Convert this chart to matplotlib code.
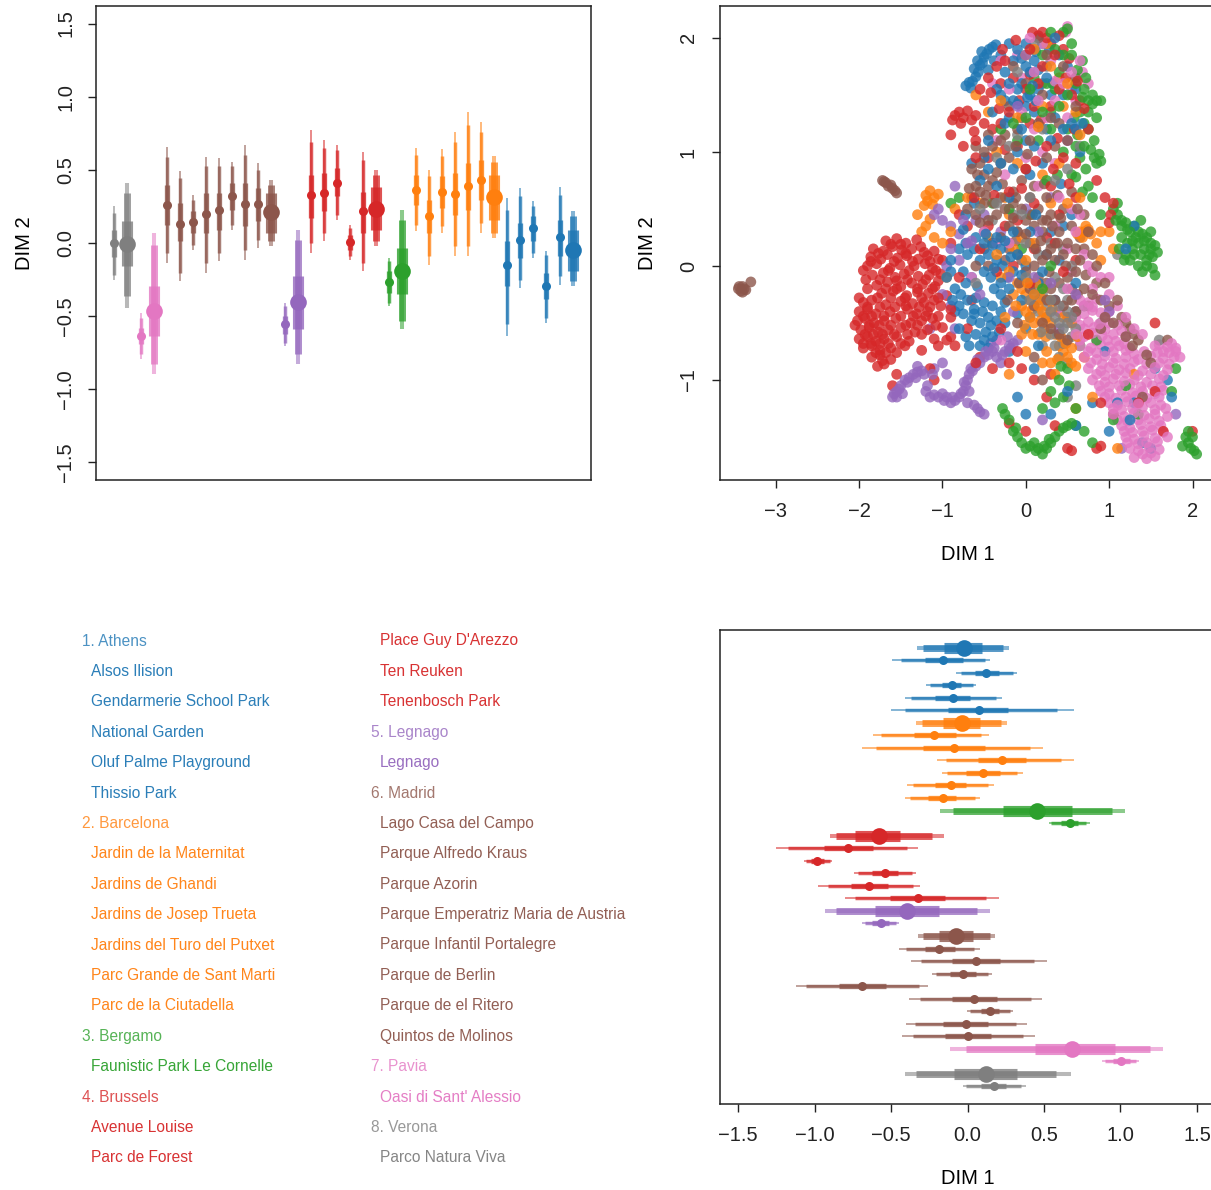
import numpy as np
import matplotlib
matplotlib.use('Agg')
import matplotlib.pyplot as plt

plt.rcParams['font.family'] = ['Liberation Sans', 'DejaVu Sans']

## Cities in plotting order (bottom / left first), with park counts
cities = ['Verona', 'Pavia', 'Madrid', 'Legnago', 'Brussels', 'Bergamo', 'Barcelona', 'Athens']
n_parks = [1, 1, 8, 1, 5, 1, 6, 5]
city_colors = {'Athens': '#1f77b4', 'Barcelona': '#ff7f0e', 'Bergamo': '#2ca02c',
               'Brussels': '#d62728', 'Legnago': '#9467bd', 'Madrid': '#8c564b',
               'Pavia': '#e377c2', 'Verona': '#7f7f7f'}

## DIM 2 posterior summaries (parks first, then the city), positions 1..36
dim2_pt = [0.00, -0.005, -0.636, -0.466, 0.261, 0.133, 0.143, 0.200, 0.223, 0.323, 0.268, 0.268,
           0.211, -0.557, -0.405, 0.325, 0.345, 0.411, 0.009, 0.216, 0.232, -0.266, -0.193, 0.359,
           0.186, 0.348, 0.336, 0.393, 0.432, 0.314, -0.148, 0.023, 0.100, -0.295, 0.041, -0.050]
dim2_outer_lo = [-0.25, -0.443, -0.795, -0.898, -0.136, -0.261, -0.045, -0.205, -0.125, 0.091, -0.114, -0.034,
                 -0.023, -0.705, -0.830, -0.068, 0.011, 0.159, -0.114, -0.193, -0.023, -0.432, -0.591, 0.080,
                 -0.148, 0.068, -0.091, -0.091, 0.068, 0.034, -0.636, -0.307, -0.102, -0.545, -0.284, -0.295]
dim2_outer_hi = [0.25, 0.409, -0.477, 0.068, 0.659, 0.489, 0.330, 0.591, 0.580, 0.557, 0.670, 0.550,
                 0.432, -0.409, 0.091, 0.773, 0.705, 0.670, 0.125, 0.625, 0.500, -0.102, 0.227, 0.648,
                 0.500, 0.641, 0.761, 0.898, 0.830, 0.595, 0.307, 0.375, 0.284, -0.057, 0.386, 0.216]
dim2_mid_lo = [-0.216, -0.364, -0.761, -0.830, -0.068, -0.205, -0.011, -0.136, -0.068, 0.125, -0.045, 0.023,
               0.011, -0.682, -0.761, 0.0, 0.068, 0.193, -0.091, -0.136, 0.011, -0.409, -0.534, 0.125,
               -0.091, 0.114, -0.023, -0.023, 0.136, 0.068, -0.557, -0.250, -0.068, -0.511, -0.227, -0.261]
dim2_mid_hi = [0.205, 0.341, -0.511, -0.011, 0.591, 0.443, 0.295, 0.523, 0.523, 0.523, 0.602, 0.500,
               0.398, -0.432, 0.023, 0.693, 0.648, 0.636, 0.102, 0.568, 0.466, -0.125, 0.159, 0.602,
               0.455, 0.595, 0.693, 0.807, 0.761, 0.557, 0.227, 0.318, 0.250, -0.080, 0.330, 0.182]
dim2_inner_lo = [-0.095, -0.159, -0.693, -0.636, 0.125, 0.011, 0.068, 0.068, 0.091, 0.227, 0.114, 0.148,
                 0.068, -0.625, -0.591, 0.170, 0.216, 0.318, -0.045, 0.068, 0.091, -0.341, -0.352, 0.261,
                 0.068, 0.239, 0.193, 0.227, 0.295, 0.159, -0.295, -0.102, 0.011, -0.386, -0.091, -0.193]
dim2_inner_hi = [0.091, 0.148, -0.580, -0.295, 0.398, 0.273, 0.216, 0.341, 0.345, 0.409, 0.409, 0.375,
                 0.341, -0.500, -0.227, 0.466, 0.477, 0.511, 0.057, 0.352, 0.386, -0.193, -0.034, 0.466,
                 0.295, 0.455, 0.477, 0.545, 0.568, 0.466, 0.011, 0.136, 0.182, -0.205, 0.159, 0.091]

## DIM 1 posterior summaries, same positions
dim1_pt = [0.173, 0.119, 1.001, 0.683, 0.003, -0.012, 0.149, 0.045, -0.690, -0.032, 0.058, -0.184,
           -0.077, -0.568, -0.395, -0.324, -0.642, -0.539, -0.981, -0.781, -0.576, 0.668, 0.454, -0.162,
           -0.108, 0.101, 0.228, -0.090, -0.219, -0.038, 0.073, -0.097, -0.101, 0.123, -0.158, -0.025]
dim1_outer_lo = [-0.029, -0.406, 0.879, -0.117, -0.428, -0.404, -0.001, -0.382, -1.119, -0.230, -0.367, -0.448,
                 -0.324, -0.690, -0.934, -0.798, -0.975, -0.742, -1.071, -1.250, -0.897, 0.530, -0.178, -0.406,
                 -0.395, -0.167, -0.199, -0.690, -0.618, -0.334, -0.498, -0.411, -0.269, -0.073, -0.493, -0.330]
dim1_outer_hi = [0.380, 0.675, 1.121, 1.278, 0.439, 0.389, 0.298, 0.487, -0.256, 0.162, 0.522, 0.080,
                 0.182, -0.448, 0.149, 0.204, -0.308, -0.334, -0.883, -0.324, -0.156, 0.799, 1.031, 0.084,
                 0.175, 0.363, 0.696, 0.493, 0.140, 0.258, 0.696, 0.225, 0.058, 0.326, 0.149, 0.271]
dim1_mid_lo = [-0.008, -0.334, 0.896, -0.008, -0.356, -0.341, 0.018, -0.313, -1.058, -0.204, -0.306, -0.404,
               -0.291, -0.672, -0.857, -0.737, -0.912, -0.716, -1.058, -1.173, -0.862, 0.547, -0.095, -0.374,
               -0.356, -0.134, -0.138, -0.596, -0.563, -0.295, -0.406, -0.372, -0.247, -0.045, -0.432, -0.291]
dim1_mid_hi = [0.352, 0.581, 1.103, 1.195, 0.363, 0.319, 0.276, 0.417, -0.317, 0.134, 0.432, 0.040,
               0.145, -0.465, 0.064, 0.119, -0.356, -0.363, -0.901, -0.396, -0.232, 0.777, 0.944, 0.047,
               0.134, 0.324, 0.613, 0.406, 0.090, 0.221, 0.587, 0.184, 0.036, 0.297, 0.112, 0.232]
dim1_inner_lo = [0.090, -0.090, 0.951, 0.439, -0.149, -0.160, 0.086, -0.101, -0.840, -0.117, -0.101, -0.280,
                 -0.188, -0.622, -0.607, -0.508, -0.759, -0.622, -1.021, -0.940, -0.733, 0.613, 0.232, -0.256,
                 -0.215, -0.008, 0.069, -0.291, -0.350, -0.160, -0.127, -0.215, -0.167, 0.047, -0.280, -0.156]
dim1_inner_hi = [0.254, 0.326, 1.060, 0.962, 0.156, 0.134, 0.206, 0.195, -0.530, 0.058, 0.210, -0.084,
                 0.036, -0.515, -0.186, -0.145, -0.520, -0.454, -0.940, -0.618, -0.443, 0.722, 0.683, -0.073,
                 -0.008, 0.210, 0.385, 0.112, -0.077, 0.080, 0.265, 0.019, -0.040, 0.204, -0.029, 0.097]

## Legend text, two columns
legend_col1 = [('1. Athens', 'Athens', True), ('Alsos Ilision', 'Athens', False),
               ('Gendarmerie School Park', 'Athens', False), ('National Garden', 'Athens', False),
               ('Oluf Palme Playground', 'Athens', False), ('Thissio Park', 'Athens', False),
               ('2. Barcelona', 'Barcelona', True), ('Jardin de la Maternitat', 'Barcelona', False),
               ('Jardins de Ghandi', 'Barcelona', False), ('Jardins de Josep Trueta', 'Barcelona', False),
               ('Jardins del Turo del Putxet', 'Barcelona', False), ('Parc Grande de Sant Marti', 'Barcelona', False),
               ('Parc de la Ciutadella', 'Barcelona', False), ('3. Bergamo', 'Bergamo', True),
               ('Faunistic Park Le Cornelle', 'Bergamo', False), ('4. Brussels', 'Brussels', True),
               ('Avenue Louise', 'Brussels', False), ('Parc de Forest', 'Brussels', False)]
legend_col2 = [("Place Guy D'Arezzo", 'Brussels', False), ('Ten Reuken', 'Brussels', False),
               ('Tenenbosch Park', 'Brussels', False), ('5. Legnago', 'Legnago', True),
               ('Legnago', 'Legnago', False), ('6. Madrid', 'Madrid', True),
               ('Lago Casa del Campo', 'Madrid', False), ('Parque Alfredo Kraus', 'Madrid', False),
               ('Parque Azorin', 'Madrid', False), ('Parque Emperatriz Maria de Austria', 'Madrid', False),
               ('Parque Infantil Portalegre', 'Madrid', False), ('Parque de Berlin', 'Madrid', False),
               ('Parque de el Ritero', 'Madrid', False), ('Quintos de Molinos', 'Madrid', False),
               ('7. Pavia', 'Pavia', True), ("Oasi di Sant' Alessio", 'Pavia', False),
               ('8. Verona', 'Verona', True), ('Parco Natura Viva', 'Verona', False)]

## Site embedding (DIM 1, DIM 2), one list per city
athens_pts = [(-0.72, 1.58), (-0.68, 1.61), (-0.64, 1.62), (-0.6, 1.66), (-0.57, 1.7), (-0.55, 1.76),
              (-0.52, 1.78), (-0.5, 1.83), (-0.47, 1.86), (-0.44, 1.9), (-0.4, 1.92), (-0.36, 1.94),
              (-0.62, 1.73), (-0.58, 1.8), (-0.53, 1.88), (-0.66, 1.56), (-0.2, 1.95), (-0.1, 1.9),
              (0.0, 1.75), (0.05, 1.7), (0.1, 1.8), (-0.05, 1.6), (0.15, 1.55), (-0.3, 1.5), (-0.15, 1.45),
              (0.0, 1.4), (0.1, 1.35), (-0.2, 1.3), (0.2, 1.95), (0.4, 1.85), (0.5, 1.75), (0.55, 1.25),
              (0.45, 1.2), (0.3, 1.1), (0.1, 1.05), (-0.1, 1.0), (-0.3, 0.9), (-0.45, 0.85), (-0.55, 0.75),
              (-0.35, 0.7), (-0.2, 0.6), (0.05, 0.8), (0.2, 0.9), (0.65, 1.0), (0.6, 1.55), (-0.4, 1.35),
              (0.3, 1.5), (0.05, 1.5), (-0.05, 1.2), (0.35, 2.0), (-0.25, 1.7), (0.25, 1.65), (0.0, 1.95),
              (-0.1, 1.55), (-0.6, 0.25), (-0.5, 0.2), (-0.4, 0.18), (-0.3, 0.15), (-0.35, 0.05),
              (-0.28, 0.0), (-0.45, 0.1), (-0.55, 0.05), (-0.7, 0.1), (-0.8, 0.15), (-0.75, -0.05),
              (-0.65, -0.1), (-0.5, -0.05), (-0.42, -0.1), (-0.3, -0.15), (-0.85, -0.2), (-0.78, -0.25),
              (-0.7, -0.3), (-0.6, -0.28), (-0.5, -0.32), (-0.4, -0.35), (-0.3, -0.4), (-0.25, -0.5),
              (-0.35, -0.48), (-0.45, -0.45), (-0.55, -0.5), (-0.65, -0.48), (-0.75, -0.42), (-0.85, -0.4),
              (-0.8, -0.55), (-0.6, -0.6), (-0.5, -0.65), (-0.4, -0.62), (-0.68, -0.7), (-0.3, -0.25),
              (-0.2, -0.2), (-0.15, -0.05), (-0.1, 0.1), (0.0, 0.0), (-0.05, -0.3), (0.05, -0.45),
              (0.15, -0.15), (0.25, 0.1), (0.35, -0.3), (0.45, 0.35), (0.55, 0.45), (0.3, 0.3), (-0.9, 0.05),
              (-0.95, -0.1), (0.5, -1.1), (0.3, -1.3), (0.6, -1.4), (0.8, -1.2), (1.1, -1.2), (1.3, -1.2),
              (1.5, -1.6), (1.75, -1.15), (1.4, -1.55), (0.95, -0.75), (0.0, -1.3), (-0.1, -1.15),
              (-0.2, -0.75), (1.55, -0.9), (1.7, -1.0), (1.0, -1.45), (1.3, 0.35), (1.2, 0.15),
              (1.25, -1.35), (0.1, -0.9), (-0.38, -0.2), (-0.62, -0.38), (-0.48, -0.58), (-0.35, 0.25),
              (-0.45, 1.72), (-0.38, 1.8), (-0.3, 1.85), (-0.15, 1.8), (-0.05, 1.82), (0.12, 1.88),
              (0.28, 1.9), (0.15, 1.72), (0.32, 1.6), (-0.2, 1.6), (-0.35, 1.55), (0.08, 1.58),
              (-0.1, 1.42), (0.02, 1.48), (0.12, 1.45), (-0.25, 1.25), (0.35, 1.3), (0.6, 1.2), (0.68, 1.25),
              (-0.15, 0.85), (-0.5, 0.95), (-0.65, 0.9), (0.0, 1.1), (0.42, 0.72), (-0.72, 0.2), (-0.62, 0.15),
              (-0.48, 0.28), (-0.25, 0.22), (-0.18, 0.08), (-0.38, -0.02), (-0.58, -0.18), (-0.72, -0.15),
              (-0.88, -0.3), (-0.8, -0.35), (-0.62, -0.42), (-0.52, -0.4), (-0.42, -0.52), (-0.32, -0.58),
              (-0.55, -0.7), (-0.72, -0.62), (-0.45, -0.72), (-0.25, -0.32), (-0.1, -0.42), (0.0, -0.55),
              (0.15, -0.7), (0.05, 0.3), (0.12, 0.45), (0.2, -0.05), (-0.75, 0.32), (-0.9, -0.05),
              (-0.22, -0.1), (-0.05, -0.08), (-0.15, 0.3), (0.1, -0.25), (-0.62, 0.55), (-0.72, 0.45),
              (0.4, 0.05), (0.6, -0.15), (-0.25, 1.45), (0.25, 1.2), (0.45, 1.5), (-0.45, 1.1)]
barcelona_pts = [(-1.2, 0.62), (-1.15, 0.66), (-1.1, 0.6), (-1.18, 0.57), (-1.12, 0.54), (-1.05, 0.63),
                 (-1.22, 0.53), (-1.2, 0.35), (-1.15, 0.41), (-1.3, 0.45), (-1.25, 0.3), (-1.1, 0.25),
                 (-1.0, 0.2), (-0.1, -0.15), (-0.05, -0.2), (0.0, -0.25), (0.05, -0.3), (0.1, -0.25),
                 (0.15, -0.35), (0.2, -0.4), (0.25, -0.45), (0.3, -0.5), (0.22, -0.55), (0.15, -0.6),
                 (0.1, -0.5), (0.05, -0.45), (0.0, -0.4), (-0.05, -0.35), (0.12, -0.15), (0.2, -0.2),
                 (0.28, -0.3), (0.35, -0.6), (0.4, -0.7), (0.45, -0.75), (0.5, -0.8), (0.55, -0.85),
                 (0.6, -0.88), (0.3, -0.85), (0.35, -0.95), (-0.3, -0.1), (-0.2, -0.05), (-0.35, 0.1),
                 (0.0, 0.05), (0.65, 0.3), (0.7, 0.3), (0.75, 0.32), (0.68, 0.25), (0.72, 0.35), (1.0, 0.3),
                 (1.05, 0.15), (0.9, 0.05), (0.5, 0.55), (-0.6, 1.5), (-0.3, 1.45), (0.0, 1.85), (0.1, 1.9),
                 (-0.1, 1.3), (0.3, 1.75), (0.5, 1.6), (0.2, 1.4), (0.45, 1.4), (0.6, 1.35), (0.4, 0.9),
                 (-0.35, 1.0), (-0.1, 0.9), (0.2, 0.8), (-0.55, 0.55), (-0.45, 0.25), (-0.2, 0.45),
                 (0.65, 0.6), (-0.9, 0.3), (-0.95, -0.1), (-0.05, -0.6), (-0.2, -0.95), (0.8, -1.15),
                 (1.1, -1.6), (0.25, -0.75), (0.6, -1.25), (0.55, -0.5), (1.3, -0.95), (0.1, 0.2),
                 (0.18, -0.28), (0.08, -0.38), (0.24, -0.62), (-0.02, -0.52), (-0.15, -0.25), (-0.12, -0.35),
                 (0.02, -0.15), (0.08, -0.6), (0.18, -0.48), (0.32, -0.38), (0.42, -0.62), (0.48, -0.68),
                 (0.38, -0.82), (0.55, -0.72), (0.62, 0.28), (0.78, 0.28), (-0.05, 0.25), (-0.25, 0.6),
                 (-0.7, 0.6), (-0.85, 0.5), (0.25, 1.95), (0.4, 1.65), (-0.45, 1.35), (0.15, 1.22),
                 (0.65, 1.15), (-0.25, -0.45), (0.0, -0.75), (0.2, -0.85), (0.45, -0.45), (0.62, -0.62),
                 (0.7, -0.8), (-0.15, 0.15), (0.3, 0.55), (0.9, 0.3), (0.85, 0.2)]
bergamo_pts = [(1.05, 0.5), (1.1, 0.45), (1.15, 0.4), (1.1, 0.55), (1.15, 0.35), (1.2, 0.38), (1.25, 0.3),
               (1.3, 0.35), (1.35, 0.3), (1.4, 0.28), (1.45, 0.25), (1.5, 0.2), (1.55, 0.18), (1.48, 0.1),
               (1.42, 0.15), (1.35, 0.2), (1.28, 0.22), (1.22, 0.2), (1.3, 0.1), (1.25, 0.05), (1.35, 0.0),
               (1.45, 0.05), (1.52, -0.02), (1.55, -0.08), (1.4, -0.05), (1.18, 0.05), (1.12, 0.15),
               (1.38, 0.4), (1.5, 0.3), (1.2, 0.1), (0.6, 1.6), (0.7, 1.55), (0.75, 1.45), (0.85, 1.45),
               (0.9, 1.45), (0.8, 1.42), (0.65, 1.35), (0.7, 1.25), (0.75, 1.2), (0.62, 1.15), (0.7, 1.05),
               (0.78, 1.02), (0.82, 0.95), (0.88, 0.98), (0.85, 0.9), (0.72, 0.85), (0.6, 0.78), (0.75, 0.7),
               (0.68, 0.65), (0.3, 2.05), (0.45, 2.05), (0.5, 2.08), (0.35, 1.9), (0.2, 1.85), (0.4, 1.7),
               (0.55, 1.95), (0.25, 1.6), (0.1, 1.65), (0.5, 1.5), (0.4, 1.4), (0.2, 1.35), (0.0, 1.3),
               (0.3, 1.2), (0.15, 1.1), (0.45, 1.0), (-0.1, 1.1), (-0.3, 1.2), (0.55, 0.8), (0.25, 0.75),
               (-0.2, 0.5), (-0.4, 0.55), (-0.8, 0.6), (-0.9, 0.55), (0.05, 0.45), (-0.05, 0.15), (0.3, 0.0),
               (0.2, -0.2), (-0.2, -1.35), (-0.15, -1.45), (-0.1, -1.5), (-0.05, -1.55), (0.0, -1.6),
               (0.1, -1.55), (0.15, -1.6), (0.2, -1.65), (0.25, -1.6), (0.3, -1.55), (0.35, -1.5),
               (0.4, -1.45), (0.5, -1.4), (0.6, -1.4), (0.7, -1.45), (0.2, -1.25), (0.3, -1.1), (0.4, -1.0),
               (0.5, -0.9), (0.45, -1.15), (0.6, -1.25), (-0.25, -1.3), (0.8, -1.55), (1.05, -1.35),
               (1.2, -1.05), (1.35, -1.3), (1.8, -0.9), (1.75, -1.1), (0.85, -0.65), (0.65, -0.7),
               (1.92, -1.5), (1.95, -1.55), (1.98, -1.6), (2.02, -1.62), (2.05, -1.65), (1.95, -1.45),
               (2.0, -1.5), (1.88, -1.58), (0.45, 1.85), (0.55, 1.85), (0.62, 1.72), (0.68, 1.48),
               (0.8, 1.5), (0.75, 1.35), (0.58, 1.3), (0.82, 1.1), (0.65, 0.95), (0.9, 0.92), (0.35, 1.55),
               (0.3, 1.35), (0.5, 1.2), (0.05, 1.55), (-0.15, 1.25), (1.08, 0.4), (1.22, 0.32), (1.32, 0.25),
               (1.42, 0.22), (1.5, 0.15), (1.58, 0.12), (1.45, 0.0), (1.28, 0.15), (1.38, 0.1), (1.52, 0.08),
               (1.15, 0.25), (-0.28, -1.25), (-0.12, -1.42), (0.05, -1.58), (0.22, -1.58), (0.12, -1.62),
               (0.28, -1.52), (0.45, -1.42), (0.55, -1.38), (0.35, -1.2), (0.52, -1.05), (0.42, -0.88),
               (0.68, 1.8), (0.72, 1.65), (0.85, 1.3), (0.6, 1.05), (0.38, 0.8), (0.8, 0.6), (0.9, 0.45)]
brussels_pts = [(-1.68, 0.22), (-1.55, 0.24), (-1.44, 0.2), (-1.31, 0.23), (-1.83, 0.15), (-1.71, 0.13),
                (-1.6, 0.17), (-1.49, 0.14), (-1.37, 0.15), (-1.26, 0.17), (-1.1, 0.13), (-1.86, 0.08),
                (-1.74, 0.06), (-1.66, 0.1), (-1.54, 0.07), (-1.43, 0.09), (-1.29, 0.06), (-1.18, 0.09),
                (-1.05, 0.06), (-1.9, 0.0), (-1.79, 0.02), (-1.63, -0.02), (-1.51, 0.01), (-1.34, 0.0),
                (-1.21, 0.02), (-1.12, -0.02), (-1.84, -0.08), (-1.71, -0.06), (-1.57, -0.1), (-1.46, -0.07),
                (-1.29, -0.09), (-1.16, -0.08), (-1.02, -0.07), (-1.79, -0.17), (-1.66, -0.14), (-1.5, -0.18),
                (-1.37, -0.15), (-1.24, -0.16), (-1.09, -0.18), (-1.73, -0.24), (-1.59, -0.22), (-1.43, -0.26),
                (-1.3, -0.23), (-1.17, -0.24), (-0.95, -0.26), (-1.95, -0.32), (-1.85, -0.3), (-1.68, -0.34),
                (-1.5, -0.31), (-1.36, -0.33), (-1.22, -0.32), (-1.1, -0.3), (-2.0, -0.4), (-1.9, -0.38),
                (-1.8, -0.42), (-1.63, -0.4), (-1.42, -0.38), (-1.31, -0.42), (-1.18, -0.4), (-0.9, -0.38),
                (-2.02, -0.48), (-1.93, -0.46), (-1.82, -0.5), (-1.7, -0.48), (-1.56, -0.46), (-1.38, -0.5),
                (-1.25, -0.48), (-1.12, -0.46), (-1.98, -0.56), (-1.88, -0.54), (-1.77, -0.58), (-1.65, -0.56),
                (-1.5, -0.54), (-1.33, -0.58), (-1.18, -0.56), (-1.0, -0.54), (-2.0, -0.64), (-1.9, -0.62),
                (-1.8, -0.66), (-1.7, -0.64), (-1.55, -0.62), (-1.4, -0.66), (-1.1, -0.64), (-0.9, -0.62),
                (-1.95, -0.72), (-1.85, -0.7), (-1.75, -0.74), (-1.62, -0.72), (-1.45, -0.7), (-1.25, -0.74),
                (-1.85, -0.8), (-1.75, -0.78), (-1.62, -0.82), (-1.78, -0.88), (-1.7, -0.86),
                (-1.62, 0.19), (-1.5, 0.19), (-1.77, 0.11), (-1.44, 0.11), (-1.22, 0.12), (-1.86, 0.04),
                (-1.58, 0.04), (-1.36, 0.04), (-1.15, 0.04), (-1.95, -0.04), (-1.65, -0.04), (-1.4, -0.04),
                (-1.08, -0.04), (-1.92, -0.12), (-1.75, -0.12), (-1.55, -0.13), (-1.42, -0.12), (-1.2, -0.12),
                (-1.05, -0.13), (-1.9, -0.2), (-1.68, -0.2), (-1.55, -0.2), (-1.3, -0.2), (-1.12, -0.2),
                (-2.0, -0.28), (-1.78, -0.28), (-1.62, -0.28), (-1.45, -0.28), (-1.25, -0.28), (-1.05, -0.28),
                (-1.9, -0.36), (-1.75, -0.36), (-1.57, -0.36), (-1.44, -0.35), (-1.28, -0.36), (-1.15, -0.36),
                (-1.02, -0.35), (-1.95, -0.44), (-1.85, -0.44), (-1.7, -0.44), (-1.5, -0.44), (-1.35, -0.44),
                (-1.2, -0.44), (-1.05, -0.44), (-2.05, -0.52), (-1.88, -0.52), (-1.76, -0.52), (-1.62, -0.52),
                (-1.44, -0.52), (-1.3, -0.52), (-1.08, -0.52), (-1.93, -0.6), (-1.83, -0.6), (-1.72, -0.6),
                (-1.58, -0.6), (-1.42, -0.6), (-1.25, -0.6), (-1.95, -0.68), (-1.86, -0.68), (-1.75, -0.68),
                (-1.65, -0.68), (-1.5, -0.68), (-1.8, -0.76), (-1.68, -0.76), (-1.55, -0.76), (-1.72, -0.83),
                (-0.85, 1.32), (-0.8, 1.35), (-0.75, 1.3), (-0.7, 1.36), (-0.65, 1.28), (-0.78, 1.25),
                (-0.88, 1.28), (-0.6, 1.32), (-0.9, 1.15), (0.2, 2.05), (0.25, 2.0), (0.15, 2.02),
                (0.3, 1.95), (0.45, 1.9), (0.35, 1.85), (0.05, 1.9), (-0.25, 1.8), (-0.35, 1.75),
                (-0.45, 1.65), (-0.3, 1.6), (-0.15, 1.65), (0.0, 1.55), (0.15, 1.6), (0.4, 1.55),
                (0.55, 1.5), (0.65, 1.45), (-0.5, 1.45), (-0.2, 1.35), (0.05, 1.25), (0.3, 1.4), (-0.4, 1.2),
                (-0.1, 1.05), (0.25, 1.05), (0.45, 0.95), (0.6, 0.9), (-0.6, 1.1), (-0.75, 1.05),
                (-0.6, 0.95), (0.0, 0.85), (0.3, 0.7), (-0.2, 0.65), (0.1, 0.55), (0.4, 0.45), (-0.45, 0.35),
                (-0.7, 0.35), (-0.8, 0.45), (0.1, 0.15), (-0.15, 0.0), (0.25, 0.25), (0.45, -0.05),
                (-0.8, -0.1), (-0.9, -0.45), (-0.7, -0.55), (-0.95, -0.65), (-1.05, -0.7), (-0.3, -0.55),
                (-0.2, -0.85), (-0.05, -0.9), (0.1, -1.0), (0.3, -0.95), (0.25, -1.15), (0.35, -1.4),
                (0.0, -1.45), (-0.2, -1.38), (0.5, -1.6), (0.55, -1.62), (0.85, -1.6), (0.9, -1.58),
                (0.9, -1.2), (1.35, -1.2), (1.65, -1.45), (2.0, -1.45), (1.55, -1.1), (1.05, 0.55),
                (1.02, 0.45), (1.0, 0.38), (0.95, 0.6), (0.75, 1.2), (0.85, 0.75), (-0.55, -0.8),
                (-1.15, -0.9), (-1.1, -1.0), (-1.6, -1.05), (-1.55, -0.95), (-0.55, 1.55), (-0.42, 1.52),
                (-0.28, 1.9), (-0.12, 1.98), (0.08, 2.05), (0.4, 2.02), (0.52, 1.82), (0.62, 1.62), (0.7, 1.38),
                (0.58, 1.2), (0.38, 1.12), (0.18, 1.28), (-0.08, 1.45), (-0.32, 1.38), (-0.5, 1.25),
                (-0.62, 1.18), (-0.45, 0.95), (-0.25, 1.02), (0.12, 0.92), (0.33, 0.85), (0.52, 0.72),
                (-0.05, 0.68), (-0.38, 0.62), (-0.62, 0.6), (0.2, 1.75), (0.05, 1.68), (-0.55, 0.15),
                (-0.25, 0.35), (0.05, -0.15), (0.35, 0.2), (0.6, 0.05), (-0.65, -0.3), (-0.9, 0.2),
                (-1.0, 0.05), (-0.85, -0.7), (-0.6, -0.85), (-0.4, -0.9), (-0.1, -0.75), (0.75, -0.6),
                (1.55, -0.5), (-0.35, -0.05), (-0.1, 0.4), (0.6, 0.6), (-0.3, 1.25), (0.1, 1.4), (0.48, 1.65)]
legnago_pts = [(-1.6, -1.15), (-1.55, -1.1), (-1.5, -1.05), (-1.45, -1.0), (-1.4, -0.98), (-1.35, -0.95),
               (-1.3, -0.93), (-1.25, -0.92), (-1.55, -1.15), (-1.48, -1.12), (-1.2, -1.1), (-1.15, -1.15),
               (-1.05, -1.15), (-1.0, -1.12), (-0.95, -1.15), (-0.9, -1.2), (-0.85, -1.18), (-0.8, -1.15),
               (-0.75, -1.1), (-0.72, -1.05), (-0.7, -1.0), (-0.68, -0.95), (-0.66, -0.9), (-0.7, -1.2),
               (-0.62, -1.22), (-0.55, -1.28), (-0.5, -1.3), (-0.6, -0.88), (-0.55, -0.85), (-0.5, -0.8),
               (-0.45, -0.78), (-0.4, -0.75), (-0.35, -0.8), (-0.3, -0.85), (-0.25, -0.75), (-0.2, -0.7),
               (-0.15, -0.68), (-0.1, -0.65), (-0.35, -0.65), (-0.42, -0.68), (-1.1, -0.9), (-1.0, -0.85),
               (-0.95, -0.95), (-1.1, 0.45), (-1.05, 0.5), (-1.0, 0.4), (-0.9, 0.35), (-0.8, 0.28),
               (-0.7, 0.2), (-0.95, 0.0), (-1.0, -0.25), (-0.9, -0.35), (-0.8, 0.05), (-0.6, 0.4),
               (-0.5, 0.45), (-0.3, 0.3), (0.0, 0.5), (0.3, 0.6), (0.5, 1.1), (-0.1, 1.4), (0.0, 1.85),
               (0.3, -0.15), (0.6, -0.25), (0.4, -0.55), (0.1, -0.1), (-0.2, -0.1), (1.0, -0.4),
               (0.95, -0.3), (-0.85, 0.7), (0.2, -1.35), (1.15, -1.6), (1.8, -1.3), (-1.15, -0.55),
               (-1.58, -1.12), (-1.52, -1.08), (-1.42, -1.02), (-1.32, -0.98), (-1.22, -0.95), (-1.18, -1.05),
               (-1.1, -1.13), (-0.98, -1.18), (-0.88, -1.15), (-0.78, -1.12), (-0.74, -1.02), (-0.68, -1.1),
               (-0.58, -1.25), (-0.64, -0.92), (-0.58, -0.82), (-0.48, -0.75), (-0.38, -0.72), (-0.28, -0.78),
               (-0.18, -0.72), (-0.22, -0.62), (-1.3, -0.88), (-1.12, -0.95), (-0.9, 0.15), (-0.75, 0.4),
               (-0.65, 0.22), (-0.55, -0.25), (-0.85, -0.55), (0.15, 0.3), (-0.15, -0.4)]
madrid_pts = [(-3.45, -0.2), (-3.42, -0.22), (-3.4, -0.18), (-3.38, -0.2), (-3.44, -0.18), (-3.4, -0.23),
              (-3.3, -0.14), (-3.36, -0.21), (-1.72, 0.75), (-1.68, 0.73), (-1.65, 0.7), (-1.6, 0.68),
              (-1.57, 0.66), (-1.62, 0.71), (-1.7, 0.74), (-1.55, 0.64), (-0.6, 0.7), (-0.55, 0.65),
              (-0.5, 0.55), (-0.6, 0.45), (-0.7, 0.5), (-0.45, 0.4), (-0.35, 0.45), (-0.25, 0.5),
              (-0.3, 0.6), (-0.2, 0.35), (-0.1, 0.3), (0.0, 0.4), (0.1, 0.35), (0.2, 0.3), (0.15, 0.5),
              (0.05, 0.6), (-0.05, 0.75), (0.1, 0.7), (0.25, 0.6), (0.3, 0.45), (0.4, 0.3), (0.5, 0.2),
              (0.45, 0.1), (0.3, 0.15), (0.2, 0.05), (0.1, 0.0), (0.0, -0.05), (-0.1, 0.1), (-0.2, 0.15),
              (-0.3, 0.25), (-0.4, 0.2), (0.15, -0.1), (0.25, -0.15), (0.3, -0.2), (0.4, -0.15),
              (0.5, -0.1), (0.6, -0.05), (0.65, 0.05), (0.35, -0.3), (0.45, -0.35), (0.55, -0.3),
              (0.6, -0.4), (0.7, -0.2), (0.8, -0.25), (0.9, -0.3), (1.0, -0.35), (1.1, -0.3), (1.2, -0.5),
              (1.25, -0.55), (1.3, -0.6), (1.35, -0.65), (1.15, -0.45), (0.7, 0.15), (0.8, 0.1),
              (0.3, -0.55), (0.2, -0.5), (0.4, -0.6), (0.5, -0.65), (0.1, -0.35), (-0.6, 1.05),
              (-0.5, 1.0), (-0.4, 1.05), (-0.3, 1.1), (-0.45, 1.15), (-0.55, 0.9), (-0.65, 0.85),
              (-0.3, 0.9), (-0.2, 0.95), (-0.5, 0.8), (-0.4, 0.75), (0.05, 1.1), (0.15, 1.25), (-0.1, 1.2),
              (0.3, 1.3), (0.4, 1.25), (0.5, 1.1), (0.6, 1.4), (0.2, 1.5), (0.0, 1.6), (-0.15, 1.75),
              (0.25, 1.85), (0.45, 1.75), (0.6, 1.65), (0.15, 2.0), (-0.2, 1.4), (0.55, 0.65), (0.7, 0.45),
              (0.65, 0.25), (1.5, -0.85), (1.45, -0.78), (1.4, -1.15), (1.7, -0.65), (0.9, -0.55),
              (1.05, -1.3), (0.2, -1.0), (0.1, -0.8), (-0.1, -0.5), (-0.45, 0.0), (-0.15, 0.55),
              (0.05, 0.2), (0.35, 0.05), (-0.25, 0.05), (0.55, -0.2), (0.25, 0.4), (-0.65, 0.6),
              (-0.48, 0.62), (-0.38, 0.55), (-0.15, 0.42), (-0.05, 0.5), (0.08, 0.45), (0.2, 0.4),
              (0.32, 0.35), (0.38, 0.2), (0.25, 0.1), (0.12, 0.15), (-0.05, 0.05), (0.05, -0.2),
              (0.25, -0.3), (0.4, -0.4), (0.5, -0.45), (0.62, -0.25), (0.75, -0.35), (0.85, -0.15),
              (0.95, -0.45), (1.05, -0.5), (1.2, -0.62), (1.28, -0.7), (0.55, 0.35), (0.6, 0.15),
              (-0.55, 0.38), (-0.68, 0.68), (-0.58, 0.8), (-0.45, 0.7), (-0.35, 0.82), (-0.15, 0.65),
              (0.0, 0.85), (-0.25, 1.15), (-0.05, 1.3), (0.35, 1.05), (-0.12, 0.22), (0.0, 0.28),
              (0.18, 0.22), (0.42, 0.42), (0.62, 0.5), (0.75, 0.3), (0.85, 0.0), (0.95, -0.15), (0.72, -0.08),
              (0.48, 0.0), (0.28, -0.05), (-0.08, -0.15), (-0.22, -0.3), (-0.12, 0.6), (0.22, 0.72),
              (0.38, 0.62), (0.45, 0.5), (-0.28, 0.72), (-0.5, 0.15), (-0.6, 0.0), (0.02, 0.98),
              (-0.12, 1.05), (0.25, 0.95)]
pavia_pts = [(0.65, -0.3), (0.75, -0.32), (0.85, -0.29), (0.6, -0.4), (0.7, -0.42), (0.8, -0.39),
             (0.9, -0.41), (1.0, -0.4), (0.55, -0.5), (0.65, -0.52), (0.75, -0.49), (0.88, -0.51),
             (1.0, -0.5), (1.1, -0.52), (0.6, -0.6), (0.7, -0.62), (0.8, -0.59), (0.92, -0.61),
             (1.05, -0.6), (1.2, -0.62), (0.65, -0.7), (0.78, -0.72), (0.9, -0.69), (1.0, -0.71),
             (1.12, -0.7), (1.25, -0.72), (1.6, -0.69), (1.7, -0.71), (1.75, -0.68), (1.8, -0.72),
             (0.7, -0.8), (0.85, -0.82), (0.95, -0.79), (1.08, -0.81), (1.2, -0.8), (1.35, -0.82),
             (1.5, -0.79), (1.65, -0.81), (1.78, -0.8), (0.75, -0.9), (0.9, -0.92), (1.0, -0.89),
             (1.12, -0.91), (1.25, -0.9), (1.4, -0.92), (1.55, -0.89), (1.7, -0.91), (0.8, -1.0),
             (0.95, -1.02), (1.05, -0.99), (1.18, -1.01), (1.3, -1.0), (1.45, -1.02), (1.6, -0.99),
             (0.9, -1.1), (1.0, -1.12), (1.15, -1.09), (1.28, -1.11), (1.4, -1.1), (1.55, -1.12),
             (1.65, -1.09), (1.0, -1.2), (1.1, -1.22), (1.22, -1.19), (1.35, -1.21), (1.5, -1.2),
             (1.62, -1.22), (1.05, -1.3), (1.18, -1.32), (1.3, -1.29), (1.42, -1.31), (1.55, -1.3),
             (1.7, -1.32), (1.15, -1.4), (1.25, -1.42), (1.38, -1.39), (1.5, -1.41), (1.62, -1.4),
             (1.2, -1.5), (1.3, -1.52), (1.42, -1.49), (1.55, -1.51), (1.7, -1.5), (1.25, -1.6),
             (1.35, -1.62), (1.48, -1.59), (1.6, -1.61), (1.3, -1.68), (1.45, -1.69), (1.55, -1.67),
             (0.5, -0.2), (0.4, -0.4), (0.5, 2.1), (0.48, 2.05), (0.2, 1.95), (-0.1, 1.85), (0.3, 1.8),
             (0.55, 1.7), (0.65, 1.8), (0.1, 1.7), (-0.3, 1.8), (-0.2, 1.55), (0.15, 1.45), (0.35, 1.45),
             (0.45, 1.6), (-0.05, 1.35), (0.25, 1.3), (0.5, 1.3), (0.1, 1.2), (-0.35, 1.1), (0.2, 1.0),
             (0.35, 0.9), (0.0, 0.95), (-0.25, 0.8), (0.15, 0.7), (0.4, 0.6), (-0.5, 0.3), (-0.2, 0.2),
             (0.6, 0.3), (0.7, 0.1), (0.8, -0.05), (1.0, -0.1), (0.5, 0.15), (-0.65, -0.1), (-0.3, -0.65),
             (1.8, -0.75), (1.85, -0.8), (0.6, 1.45), (0.75, 1.6), (0.8, -0.2), (1.0, -0.25), (1.1, -0.35),
             (1.2, -0.45), (1.3, -0.55), (1.4, -0.6), (1.55, -0.7), (0.7, -0.35), (0.8, -0.36),
             (0.95, -0.45), (0.6, -0.45), (0.7, -0.55), (0.82, -0.54), (0.95, -0.56), (1.15, -0.57),
             (0.65, -0.65), (0.85, -0.66), (0.98, -0.65), (1.08, -0.66), (1.18, -0.68), (1.65, -0.75),
             (1.72, -0.76), (0.75, -0.75), (0.85, -0.76), (1.05, -0.75), (1.2, -0.74), (1.3, -0.77),
             (1.42, -0.75), (1.58, -0.76), (0.78, -0.85), (0.92, -0.86), (1.05, -0.85), (1.18, -0.86),
             (1.3, -0.84), (1.45, -0.86), (1.6, -0.85), (1.72, -0.86), (0.85, -0.95), (0.95, -0.96),
             (1.08, -0.95), (1.2, -0.94), (1.35, -0.96), (1.5, -0.95), (1.65, -0.96), (0.88, -1.05),
             (1.0, -1.06), (1.12, -1.05), (1.25, -1.04), (1.38, -1.06), (1.52, -1.05), (1.62, -1.06),
             (0.95, -1.15), (1.08, -1.16), (1.2, -1.15), (1.32, -1.14), (1.45, -1.16), (1.6, -1.15),
             (1.05, -1.25), (1.15, -1.26), (1.28, -1.25), (1.4, -1.24), (1.55, -1.26), (1.68, -1.25),
             (1.1, -1.35), (1.22, -1.36), (1.35, -1.35), (1.48, -1.34), (1.6, -1.36), (1.18, -1.45),
             (1.28, -1.46), (1.4, -1.45), (1.52, -1.44), (1.65, -1.46), (1.22, -1.55), (1.35, -1.56),
             (1.45, -1.55), (1.58, -1.54), (1.4, -1.65), (1.5, -1.64), (0.55, 0.5), (0.65, 0.45),
             (0.75, 0.0), (0.9, -0.1), (0.55, -0.05), (0.35, 0.35), (-0.35, 0.2), (-0.05, 1.65),
             (0.35, 1.62), (0.55, 1.55), (0.68, 1.7), (-0.4, 1.6), (0.05, 2.0)]
verona_pts = [(0.1, -0.2), (0.15, -0.3), (0.2, -0.25), (0.25, -0.35), (0.3, -0.4), (0.35, -0.45),
              (0.4, -0.5), (0.45, -0.55), (0.5, -0.5), (0.55, -0.45), (0.6, -0.55), (0.3, -0.6),
              (0.35, -0.7), (0.2, -0.7), (0.4, -0.8), (0.5, -0.85), (0.35, -0.1), (0.45, -0.2), (0.15, 0.1),
              (-0.1, 0.3), (-0.2, 0.2), (-0.35, 0.55), (0.0, 0.2), (-0.55, 0.5), (-0.1, 1.15), (0.2, 1.2),
              (0.65, 1.05), (0.1, 1.95), (0.25, 1.75), (-0.35, 0.95), (0.05, 0.6), (0.55, 0.0), (0.7, -0.35),
              (0.9, -0.5), (1.6, -0.65), (0.5, -1.15), (0.6, -1.05), (1.1, 0.1), (-0.5, 0.3), (-0.6, -0.15),
              (0.0, -0.1), (0.3, -0.3), (0.4, -0.35), (0.5, -0.4), (0.25, -0.45), (0.38, -0.6), (0.45, -0.68),
              (0.55, -0.62), (0.6, -0.4), (0.15, -0.4), (-0.15, 0.45), (0.3, 0.2), (0.45, 0.15), (0.5, -0.3),
              (-0.4, 0.4), (0.2, 1.6), (-0.1, 1.7), (0.05, -0.3), (0.18, -0.58), (-0.05, 0.45), (0.35, 0.75),
              (0.5, 0.85), (-0.2, 1.05)]

scatter_groups = [('Brussels', brussels_pts), ('Legnago', legnago_pts), ('Pavia', pavia_pts),
                  ('Madrid', madrid_pts), ('Athens', athens_pts), ('Barcelona', barcelona_pts),
                  ('Bergamo', bergamo_pts), ('Verona', verona_pts)]

## position -> colour, and whether the row is the city-level estimate
pos_color = []
pos_big = []
for city, k in zip(cities, n_parks):
    pos_color += [city_colors[city]] * (k + 1)
    pos_big += [False] * k + [True]
positions = np.arange(1, len(pos_color) + 1)


def draw_interval(ax, p, pt, levels, color, big, vertical):
    widths = (2.9, 5.0, 8.0) if big else (1.4, 2.5, 3.8)
    alphas = (0.55, 0.75, 0.8)
    for (lo, hi), lw, a in zip(levels, widths, alphas):
        if vertical:
            ax.plot([p, p], [lo, hi], color=color, lw=lw, alpha=a, solid_capstyle='butt')
        else:
            ax.plot([lo, hi], [p, p], color=color, lw=lw, alpha=a, solid_capstyle='butt')
    ms = 12 if big else 6.5
    xy = (p, pt) if vertical else (pt, p)
    ax.plot([xy[0]], [xy[1]], 'o', color=color, ms=ms, mew=0)


def style_axes(ax):
    for s in ax.spines.values():
        s.set_color('#222222')
        s.set_linewidth(1.1)
    ax.tick_params(direction='out', length=6, width=1.0, colors='#222222',
                   labelsize=14.5, pad=10)


fig = plt.figure(figsize=(12.11, 11.90), dpi=100)
W, H = 1211.0, 1190.0

## top left: DIM 2 intervals
ax1 = fig.add_axes([96 / W, 1 - 480 / H, 495 / W, 474 / H])
for i, p in enumerate(positions):
    lv = [(dim2_outer_lo[i], dim2_outer_hi[i]), (dim2_mid_lo[i], dim2_mid_hi[i]),
          (dim2_inner_lo[i], dim2_inner_hi[i])]
    draw_interval(ax1, p, dim2_pt[i], lv, pos_color[i], pos_big[i], True)
ax1.set_xlim(-0.4, 37.4)
ax1.set_ylim(-1.62, 1.62)
ax1.set_xticks([])
ax1.set_yticks([-1.5, -1.0, -0.5, 0.0, 0.5, 1.0, 1.5])
ax1.set_yticklabels(['\u22121.5', '\u22121.0', '\u22120.5', '0.0', '0.5', '1.0', '1.5'],
                    rotation=90, va='center')
ax1.set_ylabel('DIM 2', fontsize=14.5, labelpad=16)
style_axes(ax1)
ax1.tick_params(pad=9)

## top right: embedding of all sites
ax2 = fig.add_axes([720 / W, 1 - 480 / H, 495 / W, 474 / H])
allx, ally, allc = [], [], []
for city, pts in scatter_groups:
    for x, y in pts:
        allx.append(x)
        ally.append(y)
        allc.append(city_colors[city])
allx, ally = np.array(allx), np.array(ally)
# interleave the cities so no colour is always on top
order = np.argsort((np.arange(len(allx)) * 7919) % 997, kind='stable')
ax2.scatter(allx[order], ally[order], s=60, c=[allc[j] for j in order], alpha=0.8,
            linewidths=0)
ax2.set_xlim(-3.67, 2.27)
ax2.set_ylim(-1.877, 2.28)
ax2.set_xticks([-3, -2, -1, 0, 1, 2])
ax2.set_xticklabels(['\u22123', '\u22122', '\u22121', '0', '1', '2'])
ax2.set_yticks([-1, 0, 1, 2])
ax2.set_yticklabels(['\u22121', '0', '1', '2'], rotation=90, va='center')
ax2.set_xlabel('DIM 1', fontsize=14.5, labelpad=17)
ax2.set_ylabel('DIM 2', fontsize=14.5, labelpad=16)
style_axes(ax2)

## bottom right: DIM 1 intervals
ax3 = fig.add_axes([720 / W, 1 - 1104 / H, 495 / W, 474 / H])
for i, p in enumerate(positions):
    lv = [(dim1_outer_lo[i], dim1_outer_hi[i]), (dim1_mid_lo[i], dim1_mid_hi[i]),
          (dim1_inner_lo[i], dim1_inner_hi[i])]
    draw_interval(ax3, p, dim1_pt[i], lv, pos_color[i], pos_big[i], False)
ax3.set_ylim(-0.4, 37.4)
ax3.set_xlim(-1.618, 1.618)
ax3.set_yticks([])
ax3.set_xticks([-1.5, -1.0, -0.5, 0.0, 0.5, 1.0, 1.5])
ax3.set_xticklabels(['\u22121.5', '\u22121.0', '\u22120.5', '0.0', '0.5', '1.0', '1.5'])
ax3.set_xlabel('DIM 1', fontsize=14.5, labelpad=17)
style_axes(ax3)

## bottom left: colour key
for col, x0 in ((legend_col1, 82), (legend_col2, 371)):
    for r, (txt, city, header) in enumerate(col):
        x = x0 if header else x0 + 9
        y = 641 + 30.4 * r
        fig.text(x / W, 1 - y / H, txt, color=city_colors[city], alpha=0.8 if header else 0.95,
                 fontsize=11.2, va='center', ha='left')

fig.savefig('out.png', dpi=100)
